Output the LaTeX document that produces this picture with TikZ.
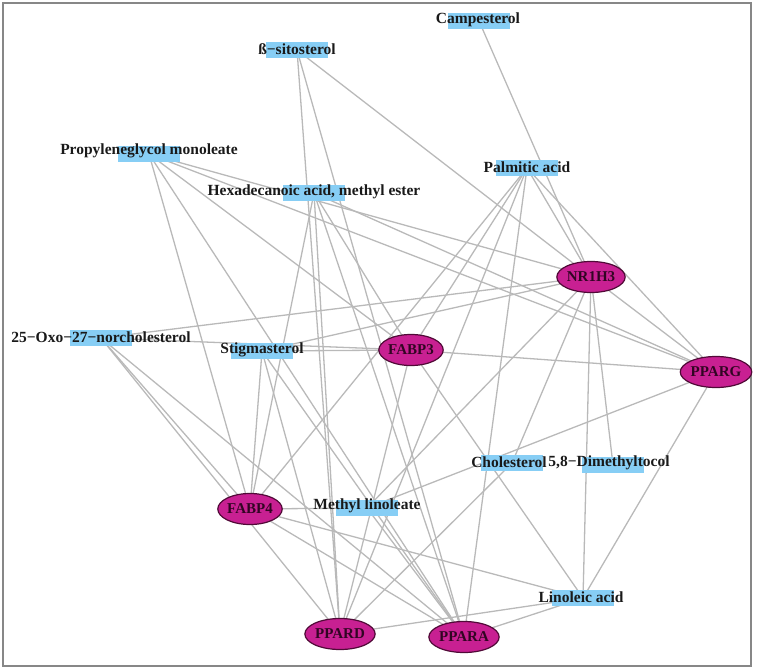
\documentclass[tikz,border=0pt]{standalone}
\usepackage{fontspec}
\setmainfont{Liberation Serif}
\usetikzlibrary{shapes.geometric}
\definecolor{edgec}{RGB}{185,185,185}
\definecolor{cblue}{RGB}{135,206,245}
\definecolor{gfill}{RGB}{200,32,146}
\definecolor{gdraw}{RGB}{80,10,55}
\definecolor{gtext}{RGB}{50,5,35}
\definecolor{framec}{RGB}{135,135,135}
\pgfdeclarelayer{bg}
\pgfsetlayers{bg,main}
\tikzset{
  gene/.style={ellipse, fill=gfill, draw=gdraw, line width=1.2pt, minimum width=63pt, minimum height=31pt, inner sep=0pt, font=\fontsize{15}{15}\selectfont\bfseries, text=gtext},
  cbox/.style={rectangle, fill=cblue, minimum width=62pt, minimum height=16pt, inner sep=0pt},
  ctext/.style={font=\fontsize{15.5}{15.5}\selectfont\bfseries, text=black!90, inner sep=0pt},
  edge/.style={draw=edgec, line width=1.3pt},
}
\begin{document}
\begin{tikzpicture}[x=1pt,y=-1pt]
\useasboundingbox (0,0) rectangle (757,669);
% compound boxes
\node[cbox] (camp) at (479,21) {};
\node[cbox] (bsit) at (297,50) {};
\node[cbox] (prop) at (149,154) {};
\node[cbox] (hexa) at (314,193) {};
\node[cbox] (palm) at (527,168) {};
\node[cbox] (oxo) at (101,338) {};
\node[cbox] (stig) at (262,351) {};
\node[cbox] (chol) at (512,463) {};
\node[cbox] (dime) at (613,465) {};
\node[cbox] (meth) at (367,508) {};
\node[cbox] (lino) at (583,598) {};
% compound texts
\node[ctext] (camp-t) at (478,20) {Campesterol};
\node[ctext] (bsit-t) at (297,49) {ß−sitosterol};
\node[ctext] (prop-t) at (149,151) {Propyleneglycol monoleate};
\node[ctext] (hexa-t) at (314,192) {Hexadecanoic acid, methyl ester};
\node[ctext] (palm-t) at (527,167) {Palmitic acid};
\node[ctext] (oxo-t) at (101,337) {25−Oxo−27−norcholesterol};
\node[ctext] (stig-t) at (262,350) {Stigmasterol};
\node[ctext] (chol-t) at (509,462) {Cholesterol};
\node[ctext] (dime-t) at (609,463) {5,8−Dimethyltocol};
\node[ctext] (meth-t) at (367,506) {Methyl linoleate};
\node[ctext] (lino-t) at (581,597) {Linoleic acid};
% genes
\node[gene] (nr1h3) at (591,277) {NR1H3};
\node[gene] (fabp3) at (411,350) {FABP3};
\node[gene] (pparg) at (716,372) {PPARG};
\node[gene] (fabp4) at (250,509) {FABP4};
\node[gene] (ppard) at (340,634) {PPARD};
\node[gene] (ppara) at (464,637) {PPARA};
\begin{pgfonlayer}{bg}
\draw[framec, line width=1.3pt] (3,3) rectangle (751,666);
\foreach \a/\b in {camp/nr1h3,
  bsit/nr1h3, bsit/ppard, bsit/ppara,
  prop/fabp4, prop/ppara, prop/fabp3, prop/nr1h3, prop/pparg,
  hexa/fabp4, hexa/ppard, hexa/ppara, hexa/fabp3, hexa/pparg,
  palm/nr1h3, palm/pparg, palm/fabp3, palm/fabp4, palm/ppara, palm/ppard,
  oxo/fabp4, oxo/ppard, oxo/ppara, oxo/nr1h3, oxo/fabp3,
  stig/fabp3, stig/nr1h3, stig/fabp4, stig/ppard, stig/ppara,
  chol/nr1h3, chol/ppard,
  dime/nr1h3,
  meth/fabp4, meth/nr1h3, meth/pparg, meth/ppara,
  lino/ppard, lino/ppara, lino/fabp4, lino/fabp3, lino/nr1h3, lino/pparg,
  nr1h3/pparg, fabp3/pparg, fabp3/ppard, fabp4/ppara}
  {\draw[edge] (\a.center) -- (\b.center);}
\end{pgfonlayer}
\end{tikzpicture}
\end{document}
